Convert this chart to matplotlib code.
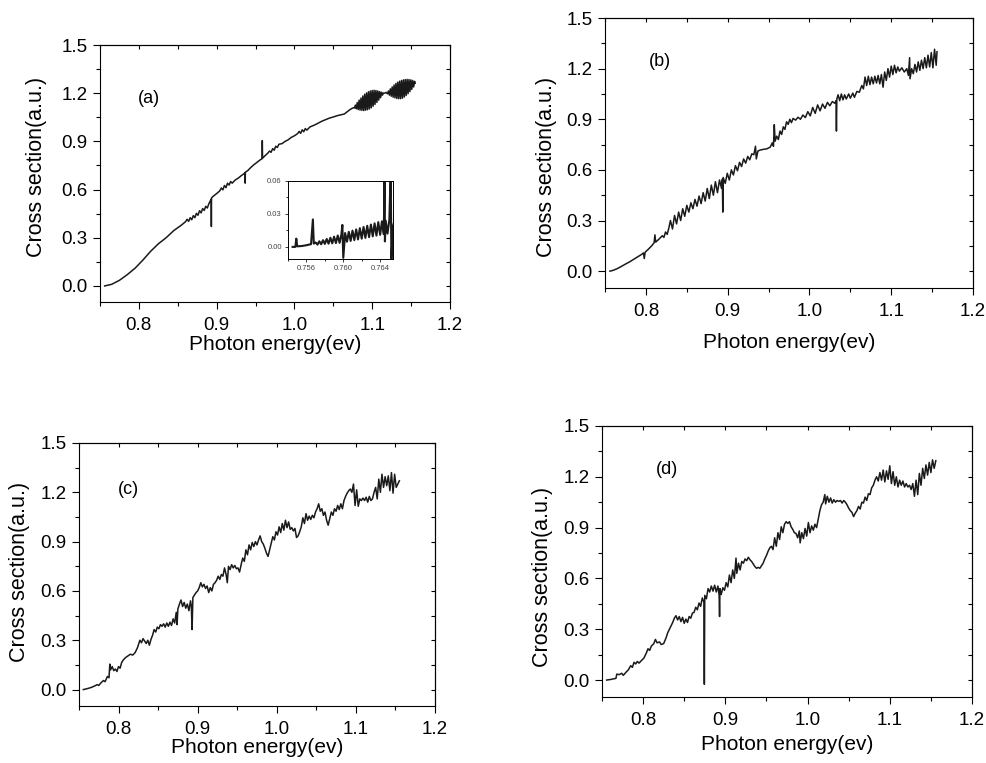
import matplotlib.pyplot as plt
from matplotlib.ticker import MultipleLocator, FormatStrFormatter

plt.rcParams['font.family'] = ['Liberation Sans', 'DejaVu Sans']

# ---- panel (a) ----
energy_a = [0.756, 0.765, 0.775, 0.785, 0.795, 0.805, 0.815, 0.825, 0.835, 0.845, 0.855,
            0.860, 0.862, 0.864, 0.866, 0.868, 0.870, 0.872, 0.874, 0.876, 0.878, 0.880,
            0.882, 0.884, 0.886, 0.888, 0.890, 0.892, 0.8930, 0.8932, 0.8934,
            0.896, 0.900, 0.904, 0.906, 0.908, 0.910, 0.912, 0.914, 0.916, 0.918, 0.920,
            0.924, 0.928, 0.932, 0.935, 0.9365, 0.9367, 0.9369,
            0.940, 0.944, 0.948, 0.952, 0.956, 0.9585, 0.9587, 0.9590,
            0.962, 0.966, 0.968, 0.970, 0.972, 0.974, 0.976, 0.978, 0.980, 0.984, 0.988,
            0.992, 0.996, 1.000, 1.004, 1.006, 1.008, 1.010, 1.012, 1.014, 1.016, 1.020,
            1.025, 1.030, 1.035, 1.040, 1.045, 1.050, 1.055, 1.060, 1.064, 1.068, 1.072,
            1.0760, 1.0772, 1.0784, 1.0796, 1.0808, 1.0820, 1.0832, 1.0844, 1.0856, 1.0868,
            1.0880, 1.0892, 1.0904, 1.0916, 1.0928, 1.0940, 1.0952, 1.0964, 1.0976, 1.0988,
            1.1000, 1.1012, 1.1024, 1.1036, 1.1048, 1.1060, 1.1072, 1.1084, 1.1096, 1.1108,
            1.1120, 1.1132, 1.1144, 1.1160, 1.1180,
            1.1197, 1.1209, 1.1221, 1.1233, 1.1245, 1.1257, 1.1269, 1.1281, 1.1293, 1.1305,
            1.1317, 1.1329, 1.1341, 1.1353, 1.1365, 1.1377, 1.1389, 1.1401, 1.1413, 1.1425,
            1.1437, 1.1449, 1.1461, 1.1473, 1.1485, 1.1497, 1.1509, 1.1521, 1.1533, 1.1545,
            1.1552]
cross_a = [0.000, 0.010, 0.035, 0.070, 0.110, 0.160, 0.215, 0.262, 0.300, 0.345, 0.380,
           0.400, 0.415, 0.402, 0.425, 0.412, 0.438, 0.425, 0.452, 0.440, 0.468, 0.455,
           0.482, 0.470, 0.496, 0.485, 0.512, 0.530, 0.540, 0.370, 0.548,
           0.560, 0.575, 0.592, 0.610, 0.598, 0.625, 0.612, 0.640, 0.628, 0.650, 0.640,
           0.660, 0.672, 0.688, 0.698, 0.705, 0.640, 0.708,
           0.718, 0.738, 0.755, 0.770, 0.785, 0.792, 0.905, 0.795,
           0.810, 0.828, 0.840, 0.832, 0.855, 0.845, 0.870, 0.862, 0.882, 0.886, 0.900,
           0.910, 0.925, 0.935, 0.948, 0.962, 0.950, 0.972, 0.960, 0.980, 0.970, 0.990,
           1.000, 1.012, 1.025, 1.035, 1.045, 1.052, 1.060, 1.066, 1.070, 1.085, 1.100,
           1.110, 1.108, 1.126, 1.103, 1.142, 1.098, 1.157, 1.095, 1.170, 1.093,
           1.183, 1.092, 1.194, 1.094, 1.202, 1.097, 1.209, 1.102, 1.214, 1.109,
           1.217, 1.119, 1.218, 1.130, 1.217, 1.143, 1.214, 1.157, 1.210, 1.172,
           1.206, 1.188, 1.201, 1.200, 1.205,
           1.196, 1.214, 1.188, 1.227, 1.181, 1.239, 1.175, 1.251, 1.171, 1.261,
           1.167, 1.269, 1.166, 1.275, 1.166, 1.279, 1.169, 1.283, 1.176, 1.285,
           1.186, 1.286, 1.197, 1.285, 1.210, 1.283, 1.224, 1.279, 1.239, 1.274,
           1.262]

# inset of (a)
energy_in = [0.7545, 0.7548, 0.7549, 0.7550, 0.7555, 0.7560, 0.7565, 0.7567, 0.7568,
             0.7570, 0.7572, 0.7574, 0.7576, 0.7578, 0.7580, 0.7582, 0.7584, 0.7586,
             0.7588, 0.7590, 0.7592, 0.7594, 0.7596, 0.7598, 0.75990, 0.76000,
             0.7602, 0.7604, 0.7606, 0.7608, 0.7610, 0.7612, 0.7614, 0.7616, 0.7618,
             0.7620, 0.7622, 0.7624, 0.7626, 0.7628, 0.7630, 0.7632, 0.7634, 0.7636,
             0.7638, 0.7640, 0.7642, 0.7644, 0.76448, 0.76452, 0.7646, 0.7648, 0.7650,
             0.76515, 0.76522, 0.7654, 0.7656]
cross_in = [0.0000, 0.0000, 0.0075, 0.0005, 0.0008, 0.0015, 0.0025, 0.0250, 0.0030,
            0.0040, 0.0021, 0.0051, 0.0024, 0.0061, 0.0027, 0.0072, 0.0029, 0.0083,
            0.0032, 0.0093, 0.0035, 0.0104, 0.0037, 0.0115, 0.0200, -0.0100,
            0.0126, 0.0047, 0.0137, 0.0054, 0.0148, 0.0061, 0.0159, 0.0068, 0.0170,
            0.0075, 0.0181, 0.0082, 0.0192, 0.0089, 0.0203, 0.0096, 0.0214, 0.0103,
            0.0225, 0.0110, 0.0233, 0.0116, 0.0700, 0.0050, 0.0239, 0.0121, 0.0244,
            0.0700, -0.0120, 0.0190, 0.0250]

# ---- panel (b) ----
energy_b = [0.756, 0.760, 0.765, 0.770, 0.775, 0.780, 0.785, 0.790, 0.795, 0.797, 0.798,
            0.799, 0.803, 0.807, 0.810, 0.811, 0.812, 0.816, 0.820, 0.822, 0.824, 0.826,
            0.828, 0.830, 0.8325, 0.835, 0.8375, 0.840, 0.8425, 0.845, 0.8475, 0.850,
            0.8525, 0.855, 0.8575, 0.860, 0.8625, 0.865, 0.8675, 0.870, 0.8725, 0.875,
            0.8775, 0.880, 0.8825, 0.885, 0.8875, 0.890, 0.8925, 0.8935, 0.8940, 0.8945,
            0.897, 0.8995, 0.902, 0.9045, 0.907, 0.9095, 0.912, 0.9145, 0.917, 0.9195,
            0.922, 0.9245, 0.927, 0.9295, 0.932, 0.934, 0.935, 0.937, 0.940, 0.944,
            0.948, 0.952, 0.9545, 0.956, 0.957, 0.958, 0.960, 0.962, 0.964, 0.966,
            0.968, 0.970, 0.972, 0.974, 0.976, 0.978, 0.980, 0.983, 0.986, 0.989,
            0.992, 0.995, 0.998, 1.001, 1.004, 1.007, 1.010, 1.013, 1.016, 1.019,
            1.022, 1.025, 1.028, 1.031, 1.0325, 1.0330, 1.0335, 1.035, 1.037, 1.039,
            1.041, 1.043, 1.045, 1.048, 1.050, 1.053, 1.055, 1.058, 1.061, 1.064,
            1.066, 1.068, 1.070, 1.072, 1.074, 1.076, 1.078, 1.080, 1.082, 1.084,
            1.086, 1.088, 1.090, 1.092, 1.094, 1.096, 1.098, 1.100, 1.102, 1.104,
            1.106, 1.108, 1.110, 1.113, 1.116, 1.119, 1.121, 1.1225, 1.123, 1.125,
            1.127, 1.129, 1.131, 1.133, 1.135, 1.137, 1.139, 1.141, 1.143, 1.145,
            1.147, 1.149, 1.151, 1.153, 1.155, 1.156]
cross_b = [0.000, 0.005, 0.015, 0.028, 0.042, 0.055, 0.070, 0.085, 0.100, 0.108, 0.075,
           0.112, 0.130, 0.150, 0.168, 0.215, 0.172, 0.190, 0.210, 0.200, 0.232, 0.218,
           0.255, 0.300, 0.250, 0.330, 0.280, 0.350, 0.300, 0.370, 0.325, 0.390,
           0.350, 0.405, 0.370, 0.425, 0.385, 0.445, 0.400, 0.465, 0.415, 0.490,
           0.430, 0.510, 0.450, 0.530, 0.465, 0.540, 0.490, 0.545, 0.350, 0.555,
           0.520, 0.580, 0.540, 0.600, 0.570, 0.625, 0.595, 0.645, 0.620, 0.665,
           0.640, 0.680, 0.660, 0.695, 0.690, 0.740, 0.665, 0.712, 0.718, 0.722,
           0.725, 0.735, 0.760, 0.740, 0.868, 0.770, 0.800, 0.780, 0.830, 0.810,
           0.855, 0.840, 0.885, 0.870, 0.900, 0.880, 0.905, 0.895, 0.912, 0.900,
           0.925, 0.910, 0.945, 0.920, 0.970, 0.935, 0.985, 0.950, 0.990, 0.965,
           1.000, 0.980, 1.005, 0.995, 1.010, 0.830, 1.020, 1.045, 1.010, 1.050,
           1.015, 1.045, 1.020, 1.050, 1.025, 1.055, 1.030, 1.065, 1.060, 1.100,
           1.080, 1.150, 1.100, 1.155, 1.105, 1.150, 1.110, 1.155, 1.115, 1.160,
           1.110, 1.165, 1.090, 1.180, 1.130, 1.200, 1.150, 1.215, 1.165, 1.220,
           1.175, 1.210, 1.185, 1.205, 1.180, 1.200, 1.160, 1.265, 1.140, 1.200,
           1.170, 1.225, 1.180, 1.240, 1.190, 1.250, 1.200, 1.265, 1.205, 1.280,
           1.210, 1.295, 1.205, 1.315, 1.220, 1.300]

# ---- panel (c) ----
energy_c = [0.7555, 0.760, 0.765, 0.770, 0.773, 0.775, 0.778, 0.781, 0.783, 0.786, 0.788,
            0.789, 0.790, 0.792, 0.794, 0.796, 0.798, 0.800, 0.802, 0.804, 0.806, 0.809,
            0.812, 0.815, 0.818, 0.821, 0.824, 0.827, 0.829, 0.831, 0.833, 0.835, 0.837,
            0.839, 0.841, 0.843, 0.845, 0.847, 0.849, 0.851, 0.853, 0.855, 0.857, 0.859,
            0.861, 0.863, 0.865, 0.867, 0.869, 0.871, 0.873, 0.874, 0.875, 0.877, 0.879,
            0.881, 0.883, 0.885, 0.887, 0.889, 0.891, 0.892, 0.893, 0.894, 0.896, 0.898,
            0.900, 0.902, 0.904, 0.906, 0.908, 0.910, 0.912, 0.914, 0.916, 0.918, 0.920,
            0.922, 0.924, 0.926, 0.928, 0.930, 0.932, 0.934, 0.936, 0.9375, 0.939, 0.941,
            0.943, 0.945, 0.947, 0.949, 0.951, 0.953, 0.955, 0.957, 0.959, 0.961, 0.963,
            0.965, 0.967, 0.969, 0.971, 0.973, 0.975, 0.977, 0.979, 0.981, 0.983, 0.985,
            0.987, 0.989, 0.991, 0.993, 0.995, 0.997, 0.999, 1.001, 1.003, 1.005, 1.007,
            1.009, 1.011, 1.013, 1.015, 1.017, 1.019, 1.021, 1.023, 1.025, 1.027, 1.029,
            1.031, 1.033, 1.035, 1.037, 1.039, 1.041, 1.043, 1.045, 1.047, 1.049, 1.051,
            1.053, 1.055, 1.057, 1.059, 1.061, 1.063, 1.065, 1.067, 1.069, 1.071, 1.073,
            1.075, 1.077, 1.079, 1.081, 1.083, 1.085, 1.087, 1.089, 1.091, 1.093, 1.095,
            1.097, 1.099, 1.101, 1.103, 1.105, 1.107, 1.109, 1.111, 1.113, 1.115, 1.117,
            1.119, 1.121, 1.123, 1.125, 1.127, 1.129, 1.131, 1.133, 1.135, 1.137, 1.139,
            1.141, 1.143, 1.145, 1.147, 1.149, 1.151, 1.153, 1.155]
cross_c = [0.000, 0.005, 0.012, 0.022, 0.030, 0.025, 0.042, 0.055, 0.048, 0.080, 0.072,
           0.155, 0.120, 0.140, 0.115, 0.125, 0.110, 0.140, 0.130, 0.165, 0.180, 0.195,
           0.205, 0.215, 0.210, 0.225, 0.255, 0.300, 0.285, 0.310, 0.295, 0.280, 0.300,
           0.270, 0.305, 0.330, 0.365, 0.350, 0.380, 0.370, 0.395, 0.385, 0.400, 0.380,
           0.405, 0.385, 0.410, 0.390, 0.430, 0.405, 0.470, 0.395, 0.490, 0.520, 0.545,
           0.505, 0.530, 0.495, 0.520, 0.480, 0.540, 0.510, 0.365, 0.560, 0.575, 0.590,
           0.600, 0.620, 0.650, 0.625, 0.640, 0.615, 0.630, 0.590, 0.620, 0.600, 0.640,
           0.650, 0.665, 0.690, 0.670, 0.700, 0.690, 0.740, 0.700, 0.650, 0.750, 0.730,
           0.760, 0.740, 0.755, 0.735, 0.740, 0.715, 0.760, 0.800, 0.780, 0.850, 0.820,
           0.880, 0.850, 0.895, 0.870, 0.900, 0.880, 0.910, 0.935, 0.900, 0.885, 0.860,
           0.830, 0.810, 0.850, 0.890, 0.930, 0.910, 0.960, 0.940, 0.990, 0.955, 1.010,
           0.970, 1.030, 0.985, 1.020, 0.975, 0.985, 0.965, 0.980, 0.925, 0.935, 0.960,
           0.990, 1.045, 1.010, 1.070, 1.030, 1.055, 1.035, 1.060, 1.045, 1.080, 1.100,
           1.130, 1.085, 1.100, 1.060, 1.080, 1.030, 1.000, 1.040, 1.080, 1.060, 1.100,
           1.085, 1.120, 1.095, 1.130, 1.100, 1.150, 1.175, 1.195, 1.210, 1.220, 1.200,
           1.250, 1.120, 1.215, 1.115, 1.160, 1.150, 1.165, 1.150, 1.170, 1.140, 1.175,
           1.150, 1.160, 1.200, 1.230, 1.160, 1.280, 1.200, 1.310, 1.230, 1.295, 1.240,
           1.300, 1.210, 1.320, 1.195, 1.310, 1.230, 1.250, 1.270]

# ---- panel (d) ----
energy_d = [0.7557, 0.760, 0.765, 0.767, 0.768, 0.771, 0.774, 0.776, 0.779, 0.782, 0.785,
            0.787, 0.789, 0.791, 0.793, 0.795, 0.798, 0.801, 0.804, 0.806, 0.808, 0.810,
            0.813, 0.815, 0.817, 0.820, 0.822, 0.825, 0.828, 0.830, 0.833, 0.836, 0.838,
            0.840, 0.842, 0.844, 0.846, 0.848, 0.850, 0.852, 0.854, 0.856, 0.858, 0.860,
            0.862, 0.864, 0.866, 0.868, 0.870, 0.872, 0.8740, 0.8745, 0.8750, 0.877,
            0.879, 0.881, 0.883, 0.885, 0.887, 0.889, 0.891, 0.8925, 0.8930, 0.8935,
            0.895, 0.897, 0.899, 0.901, 0.903, 0.905, 0.907, 0.909, 0.911, 0.913, 0.914,
            0.916, 0.918, 0.920, 0.922, 0.924, 0.926, 0.928, 0.930, 0.932, 0.934, 0.936,
            0.938, 0.940, 0.942, 0.944, 0.946, 0.948, 0.950, 0.952, 0.954, 0.956, 0.958,
            0.960, 0.962, 0.964, 0.966, 0.968, 0.970, 0.972, 0.974, 0.976, 0.978, 0.980,
            0.982, 0.984, 0.986, 0.988, 0.990, 0.991, 0.993, 0.995, 0.997, 0.999, 1.001,
            1.003, 1.005, 1.007, 1.009, 1.011, 1.013, 1.015, 1.017, 1.019, 1.021, 1.022,
            1.024, 1.026, 1.028, 1.030, 1.032, 1.034, 1.036, 1.038, 1.040, 1.042, 1.044,
            1.046, 1.048, 1.050, 1.052, 1.054, 1.056, 1.058, 1.060, 1.062, 1.064, 1.066,
            1.068, 1.070, 1.072, 1.074, 1.076, 1.078, 1.080, 1.082, 1.084, 1.086, 1.088,
            1.090, 1.092, 1.094, 1.096, 1.098, 1.100, 1.102, 1.104, 1.106, 1.108, 1.110,
            1.112, 1.114, 1.116, 1.118, 1.120, 1.122, 1.124, 1.126, 1.128, 1.130, 1.132,
            1.134, 1.136, 1.138, 1.140, 1.142, 1.144, 1.146, 1.148, 1.150, 1.152, 1.154,
            1.156]
cross_d = [0.000, 0.003, 0.008, 0.010, 0.035, 0.032, 0.040, 0.028, 0.045, 0.060, 0.085,
           0.075, 0.105, 0.095, 0.110, 0.100, 0.115, 0.130, 0.160, 0.185, 0.175, 0.200,
           0.215, 0.240, 0.220, 0.225, 0.210, 0.215, 0.250, 0.280, 0.310, 0.340, 0.365,
           0.380, 0.355, 0.375, 0.345, 0.370, 0.335, 0.360, 0.340, 0.375, 0.365, 0.395,
           0.400, 0.430, 0.415, 0.455, 0.435, 0.485, 0.460, -0.025, 0.500, 0.480,
           0.540, 0.520, 0.555, 0.525, 0.560, 0.520, 0.555, 0.500, 0.375, 0.540,
           0.505, 0.545, 0.530, 0.575, 0.550, 0.620, 0.575, 0.650, 0.600, 0.720, 0.630,
           0.690, 0.650, 0.700, 0.690, 0.715, 0.705, 0.725, 0.710, 0.700, 0.685, 0.670,
           0.660, 0.665, 0.660, 0.675, 0.690, 0.715, 0.735, 0.760, 0.780, 0.790, 0.770,
           0.840, 0.790, 0.870, 0.830, 0.905, 0.870, 0.920, 0.935, 0.925, 0.935, 0.905,
           0.890, 0.870, 0.865, 0.840, 0.880, 0.810, 0.870, 0.835, 0.895, 0.850, 0.930,
           0.870, 0.910, 0.885, 0.920, 0.900, 0.950, 1.000, 1.035, 1.050, 1.095, 1.040,
           1.085, 1.050, 1.075, 1.045, 1.065, 1.050, 1.060, 1.055, 1.060, 1.045, 1.060,
           1.050, 1.035, 1.015, 1.000, 0.990, 0.965, 0.985, 1.000, 1.025, 1.010, 1.050,
           1.045, 1.080, 1.060, 1.100, 1.095, 1.135, 1.150, 1.180, 1.200, 1.175, 1.225,
           1.180, 1.240, 1.170, 1.235, 1.185, 1.265, 1.160, 1.230, 1.150, 1.200, 1.140,
           1.180, 1.150, 1.175, 1.140, 1.160, 1.140, 1.150, 1.125, 1.160, 1.085, 1.180,
           1.095, 1.220, 1.150, 1.250, 1.190, 1.270, 1.210, 1.285, 1.225, 1.300, 1.250,
           1.295]

panels = [
    # x, y, tag, axes rect, tag pos, xlabel top, ylabel (right edge, centre)
    (energy_a, cross_a, '(a)', [0.1013, 0.6042, 0.3546, 0.3368], (0.14, 0.79), -0.128, (-0.151, 0.525)),
    (energy_b, cross_b, '(b)', [0.6130, 0.6225, 0.3728, 0.3539], (0.15, 0.84), -0.167, (-0.130, 0.448)),
    (energy_c, cross_c, '(c)', [0.0800, 0.0747, 0.3607, 0.3447], (0.14, 0.825), -0.122, (-0.138, 0.51)),
    (energy_d, cross_d, '(d)', [0.6099, 0.0865, 0.3749, 0.3552], (0.175, 0.84), -0.14, (-0.132, 0.443)),
]

fig = plt.figure(figsize=(9.87, 7.63), dpi=100)

for ex, cs, tag, rect, tpos, xly, yl in panels:
    ax = fig.add_axes(rect)
    ax.plot(ex, cs, color='#1a1a1a', lw=1.1)
    ax.set_xlim(0.75, 1.2)
    ax.set_ylim(-0.1, 1.5)
    ax.xaxis.set_major_locator(MultipleLocator(0.1))
    ax.xaxis.set_minor_locator(MultipleLocator(0.05))
    ax.yaxis.set_major_locator(MultipleLocator(0.3))
    ax.yaxis.set_minor_locator(MultipleLocator(0.15))
    ax.xaxis.set_major_formatter(FormatStrFormatter('%.1f'))
    ax.yaxis.set_major_formatter(FormatStrFormatter('%.1f'))
    ax.tick_params(which='major', direction='out', length=5, width=0.8,
                   labelsize=13.5, pad=6)
    ax.tick_params(which='minor', direction='out', length=3, width=0.8)
    ax.tick_params(axis='y', which='major', pad=4)
    for s in ax.spines.values():
        s.set_linewidth(0.8)
    # mirror ticks on top and right
    top = ax.secondary_xaxis('top')
    top.xaxis.set_major_locator(MultipleLocator(0.1))
    top.xaxis.set_minor_locator(MultipleLocator(0.05))
    top.tick_params(which='both', direction='in', length=3, labeltop=False, width=0.8)
    right = ax.secondary_yaxis('right')
    right.yaxis.set_major_locator(MultipleLocator(0.3))
    right.yaxis.set_minor_locator(MultipleLocator(0.15))
    right.tick_params(which='both', direction='in', length=3, labelright=False, width=0.8)
    ax.set_xlabel('Photon energy(ev)', fontsize=15)
    ax.set_ylabel('Cross section(a.u.)', fontsize=15.5)
    ax.xaxis.set_label_coords(0.5, xly)
    ax.yaxis.set_label_coords(yl[0], yl[1])
    ax.text(tpos[0], tpos[1], tag, transform=ax.transAxes, fontsize=13,
            ha='center', va='center')

# inset in panel (a)
axi = fig.add_axes([0.2918, 0.6606, 0.1064, 0.1022])
axi.plot(energy_in, cross_in, color='#1a1a1a', lw=1.5)
axi.set_xlim(0.754, 0.7654)
axi.set_ylim(-0.011, 0.06)
axi.xaxis.set_major_locator(MultipleLocator(0.004))
axi.xaxis.set_minor_locator(MultipleLocator(0.002))
axi.yaxis.set_major_locator(MultipleLocator(0.03))
axi.yaxis.set_minor_locator(MultipleLocator(0.015))
axi.xaxis.set_major_formatter(FormatStrFormatter('%.3f'))
axi.yaxis.set_major_formatter(FormatStrFormatter('%.2f'))
axi.tick_params(which='major', direction='out', length=2.5, width=0.6,
                labelsize=5.5, pad=2, colors='#1a1a1a', labelcolor='#444444')
axi.tick_params(which='minor', direction='out', length=1.5, width=0.6)
for s in axi.spines.values():
    s.set_linewidth(0.7)

fig.savefig('out.png', dpi=100)
